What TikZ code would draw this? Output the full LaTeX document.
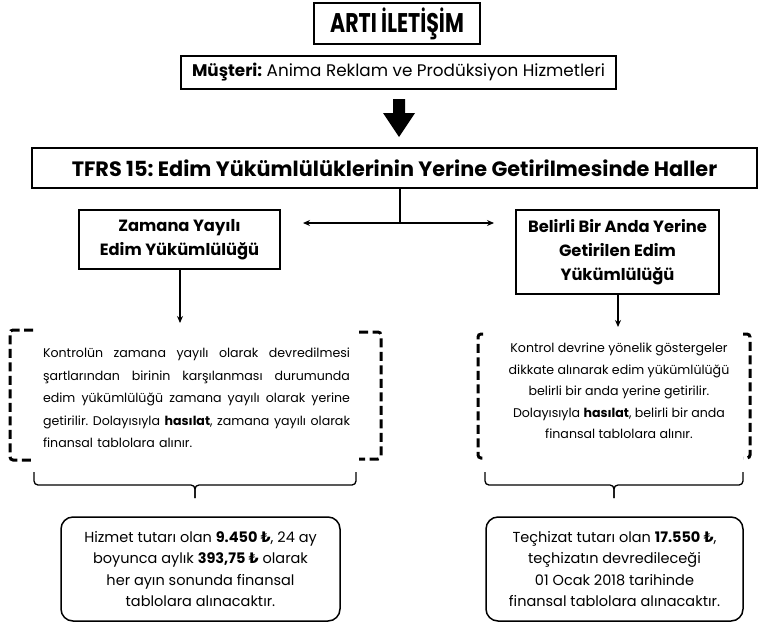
\documentclass[tikz,border=0pt]{standalone}
\usepackage{graphicx}
\usepackage{fontspec}
\setmainfont{Poppins}
\newfontfamily\lirafont{DejaVu Sans}
\newcommand{\TL}{{\lirafont ₺}}
\frenchspacing
% a line spread to the full paragraph width
\newcommand{\fullline}[1]{\makebox[307pt][s]{\spaceskip=0pt\xspaceskip=0pt #1}}
\usetikzlibrary{arrows.meta,calc}

\begin{document}
\begin{tikzpicture}[x=1pt,y=-1pt,
  framebox/.style={draw,line width=2pt,inner sep=0pt,align=center},
  roundbox/.style={draw,line width=1.5pt,rounded corners=12pt,inner sep=0pt,align=center},
  link/.style={line width=1.5pt,-{Stealth[length=7pt,width=6pt]}},
  twoway/.style={line width=1.5pt,{Stealth[length=7pt,width=6pt]}-{Stealth[length=7pt,width=6pt]}},
  bracket/.style={line width=3pt,dash pattern=on 9pt off 4.5pt,rounded corners=3pt},
  curly/.style={line width=1.3pt,rounded corners=4pt},
  headfont/.style={font=\fontsize{16.3}{24}\selectfont\bfseries},
  parafont/.style={font=\fontsize{12.6}{22.5}\selectfont},
  notefont/.style={font=\fontsize{14.5}{21.3}\selectfont}]
\useasboundingbox (0,0) rectangle (759,624);

% title and client
\node[framebox,minimum width=166pt,minimum height=41pt] (title) at (397,23.5)
  {\fontsize{27}{27}\selectfont\bfseries\scalebox{0.76}[1]{ARTI İLETİŞİM}};
\node[framebox,minimum width=435pt,minimum height=33pt] (client) at (398.5,72.5)
  {\fontsize{16.8}{18}\selectfont\textbf{Müşteri:} Anima Reklam ve Prodüksiyon Hizmetleri};

% block arrow down to the standard
\fill (393,99) -- (405,99) -- (405,113) -- (415,113) -- (399,137) -- (383,113) -- (393,113) -- cycle;

\node[framebox,minimum width=725pt,minimum height=40pt] (tfrs) at (394.5,168)
  {\fontsize{20.8}{22}\selectfont\bfseries TFRS 15: Edim Yükümlülüklerinin Yerine Getirilmesinde Haller};

% the two kinds of performance obligation
\node[framebox,headfont,minimum width=201pt,minimum height=59pt] (over) at (179.5,239.5)
  {Zamana Yayılı\\Edim Yükümlülüğü};
\node[framebox,headfont,minimum width=203pt,minimum height=84pt] (point) at (617.5,252)
  {Belirli Bir Anda Yerine\\Getirilen Edim\\Yükümlülüğü};

\coordinate (fork) at (400,223);
\coordinate (forkL) at (303,223);
\coordinate (forkR) at (494,223);
\draw[line width=1.5pt] (tfrs.south -| fork) -- (fork);
\draw[twoway] (forkL) -- (forkR);

% explanations in dashed brackets
\node[parafont,inner sep=0pt,align=left,text width=307pt] (overtext) at (196.5,398)
  {\fullline{Kontrolün zamana yayılı olarak devredilmesi}\\
   \fullline{şartlarından birinin karşılanması durumunda}\\
   \fullline{edim yükümlülüğü zamana yayılı olarak yerine}\\
   \fullline{getirilir. Dolayısıyla \textbf{hasılat}, zamana yayılı olarak}\\
   finansal tablolara alınır.};
\node[inner sep=0pt,align=center,font=\fontsize{12.6}{21.5}\selectfont] (pointtext) at (619,391)
  {Kontrol devrine yönelik göstergeler\\
   dikkate alınarak edim yükümlülüğü\\
   belirli bir anda yerine getirilir.\\
   Dolayısıyla \textbf{hasılat}, belirli bir anda\\
   finansal tablolara alınır.};

\coordinate (overin) at (180,323);
\coordinate (pointin) at (618,327);
\draw[link] (over.south -| overin) -- (overin);
\draw[link] (point.south -| pointin) -- (pointin);

\draw[bracket] (33,330) -- (10,330) -- (10,460) -- (33,460);
\draw[bracket] (359,332) -- (381,332) -- (381,459) -- (359,459);
\draw[bracket] (483,334) -- (478,334) -- (478,458) -- (483,458);
\draw[bracket] (743,334) -- (750,334) -- (750,458) -- (743,458);

% braces gathering each explanation
\coordinate (braceLa) at (34,472);
\coordinate (braceLb) at (356,472);
\coordinate (braceLt) at (195,498);
\coordinate (braceRa) at (485,472);
\coordinate (braceRb) at (743,472);
\coordinate (braceRt) at (614,498);
\draw[curly] (braceLa) |- ($(braceLt)+(0,-13)$) -- (braceLt);
\draw[curly] (braceLb) |- ($(braceLt)+(0,-13)$) -- (braceLt);
\draw[curly] (braceRa) |- ($(braceRt)+(0,-13)$) -- (braceRt);
\draw[curly] (braceRb) |- ($(braceRt)+(0,-13)$) -- (braceRt);

% the amounts
\node[roundbox,notefont,minimum width=279pt,minimum height=104pt] (overnote) at (200.5,569)
  {Hizmet tutarı olan \textbf{9.450 \TL}, 24 ay\\
   boyunca aylık \textbf{393,75 \TL} olarak\\
   her ayın sonunda finansal\\
   tablolara alınacaktır.};
\node[roundbox,notefont,minimum width=257pt,minimum height=104pt] (pointnote) at (614.5,569)
  {Teçhizat tutarı olan \textbf{17.550 \TL},\\
   teçhizatın devredileceği\\
   01 Ocak 2018 tarihinde\\
   finansal tablolara alınacaktır.};
\end{tikzpicture}
\end{document}
